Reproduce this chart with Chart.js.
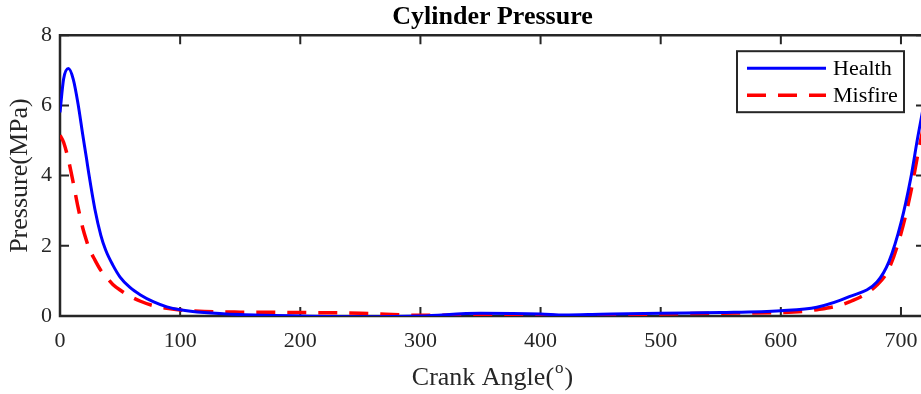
<!DOCTYPE html>
<html>
<head>
<meta charset="utf-8">
<script src="https://cdn.jsdelivr.net/npm/chart.js@4.4.1/dist/chart.umd.min.js"></script>
<style>
	html,body{margin:0;padding:0;background:#fff;overflow:hidden;}
	#wrap{position:relative;width:935px;height:394px;}
</style>
</head>
<body>
<div id="wrap"><canvas id="c"></canvas></div>
<script>
// crank angle (deg) and pressure (MPa)
const angle   = [0, 3, 7, 11, 15, 19, 22, 24, 29, 34, 38, 44, 50, 58, 67, 78, 89, 100, 120, 150, 200, 250, 300, 350, 400, 420, 450, 500, 550, 600, 630, 657, 680, 690, 700, 708, 714, 720];
const health  = [5.8, 6.75, 7.05, 6.75, 6.05, 5.15, 4.5, 4.05, 3.05, 2.3, 1.88, 1.45, 1.11, 0.82, 0.6, 0.4, 0.26, 0.18, 0.1, 0.04, 0.0, -0.02, 0.0, 0.08, 0.06, 0.03, 0.05, 0.08, 0.1, 0.15, 0.25, 0.55, 0.97, 1.55, 2.65, 3.9, 5.1, 6.2];
const misfire = [5.15, 4.95, 4.45, 3.8, 3.1, 2.5, 2.15, 1.95, 1.6, 1.3, 1.13, 0.9, 0.74, 0.57, 0.42, 0.29, 0.22, 0.17, 0.13, 0.11, 0.1, 0.08, 0.02, 0.03, 0.03, 0.0, 0.02, 0.06, 0.08, 0.1, 0.18, 0.4, 0.88, 1.35, 2.35, 3.5, 4.6, 5.6];
const xTicks  = [0, 100, 200, 300, 400, 500, 600, 700];
const yTicks  = [0, 2, 4, 6, 8];
const seriesNames = ['Health', 'Misfire'];

const SERIF = "'Liberation Serif', 'Times New Roman', serif";
const INK = '#262626';

function pts(ys){ return angle.map((a,i)=>({x:a, y:ys[i]})); }

// MATLAB-like box with inward ticks, legend and x label with superscript
const framePlugin = {
	id: 'frame',
	beforeDatasetsDraw(chart){
		const {ctx, chartArea:{left,right,top,bottom}, scales:{x,y}} = chart;
		ctx.save();
		ctx.strokeStyle = INK;
		ctx.lineWidth = 2.5;
		ctx.beginPath();
		ctx.rect(left, top, right-left, bottom-top);
		ctx.stroke();
		ctx.lineWidth = 2;
		const tl = 9;
		ctx.beginPath();
		for (const v of xTicks){
			const px = x.getPixelForValue(v);
			ctx.moveTo(px, bottom); ctx.lineTo(px, bottom-tl);
			ctx.moveTo(px, top); ctx.lineTo(px, top+tl);
		}
		for (const v of yTicks){
			const py = y.getPixelForValue(v);
			ctx.moveTo(left, py); ctx.lineTo(left+tl, py);
			ctx.moveTo(right, py); ctx.lineTo(right-tl, py);
		}
		ctx.stroke();
		ctx.restore();
	},
	afterDatasetsDraw(chart){
		const {ctx, chartArea:{left,right,top,bottom}} = chart;
		// legend box, top right inside the axes
		const bx = right-188, by = top+16, bw = 167, bh = 61;
		ctx.save();
		ctx.fillStyle = '#fff';
		ctx.fillRect(bx, by, bw, bh);
		ctx.strokeStyle = INK; ctx.lineWidth = 2;
		ctx.strokeRect(bx, by, bw, bh);
		chart.data.datasets.forEach((ds,i)=>{
			const cy = by + 17 + i*27;
			ctx.strokeStyle = ds.borderColor;
			ctx.lineWidth = ds.borderWidth;
			ctx.setLineDash(ds.borderDash || []);
			ctx.beginPath(); ctx.moveTo(bx+10, cy); ctx.lineTo(bx+89, cy); ctx.stroke();
			ctx.setLineDash([]);
			ctx.fillStyle = '#000';
			ctx.font = '22px ' + SERIF;
			ctx.textBaseline = 'middle'; ctx.textAlign = 'left';
			ctx.fillText(ds.label, bx+96, cy+1);
		});
		// x axis label: Crank Angle(^o)
		const big = '26px ' + SERIF, small = '17px ' + SERIF;
		const p1 = 'Crank Angle(', p2 = 'o', p3 = ')';
		ctx.font = big; const w1 = ctx.measureText(p1).width, w3 = ctx.measureText(p3).width;
		ctx.font = small; const w2 = ctx.measureText(p2).width;
		let tx = (left+right)/2 - (w1+w2+w3+2)/2;
		const base = 385;
		ctx.fillStyle = INK; ctx.textBaseline = 'alphabetic'; ctx.textAlign = 'left';
		ctx.font = big; ctx.fillText(p1, tx, base); tx += w1 + 1;
		ctx.font = small; ctx.fillText(p2, tx, base-12); tx += w2 + 1;
		ctx.font = big; ctx.fillText(p3, tx, base);
		ctx.restore();
	}
};

new Chart(document.getElementById('c').getContext('2d'), {
	type: 'line',
	data: {
		datasets: [
			{ label: seriesNames[0], data: pts(health), borderColor: '#0000ff', borderWidth: 3, pointRadius: 0, cubicInterpolationMode: 'monotone', fill: false },
			{ label: seriesNames[1], data: pts(misfire), borderColor: '#ff0000', borderWidth: 3.5, borderDash: [19, 12], pointRadius: 0, cubicInterpolationMode: 'monotone', fill: false }
		]
	},
	options: {
		responsive: true, maintainAspectRatio: false, animation: false,
		layout: { padding: { left: 0, right: 10, top: 0, bottom: 0 } },
		plugins: {
			legend: { display: false },
			tooltip: { enabled: false },
			title: {
				display: true, text: 'Cylinder Pressure', color: '#000', fullSize: false,
				font: { family: SERIF, size: 26, weight: 'bold', lineHeight: 1.2 },
				padding: { top: 2, bottom: 2 }
			}
		},
		scales: {
			x: {
				type: 'linear', min: 0, max: 720,
				grid: { display: false, drawTicks: false },
				border: { display: false },
				afterBuildTicks(s){ s.ticks = xTicks.map(v=>({value:v})); },
				afterFit(s){ s.height = 78; },
				ticks: { color: INK, padding: 12, maxRotation: 0, font: { family: SERIF, size: 22 } },
				title: { display: false }
			},
			y: {
				min: 0, max: 8,
				grid: { display: false, drawTicks: false },
				border: { display: false },
				afterBuildTicks(s){ s.ticks = yTicks.map(v=>({value:v})); },
				afterFit(s){ s.width = 60; },
				ticks: { color: INK, padding: 8, font: { family: SERIF, size: 22 } },
				title: { display: true, text: 'Pressure(MPa)', color: INK, padding: { top: 5 }, font: { family: SERIF, size: 26 } }
			}
		}
	},
	plugins: [framePlugin]
});
</script>
</body>
</html>
